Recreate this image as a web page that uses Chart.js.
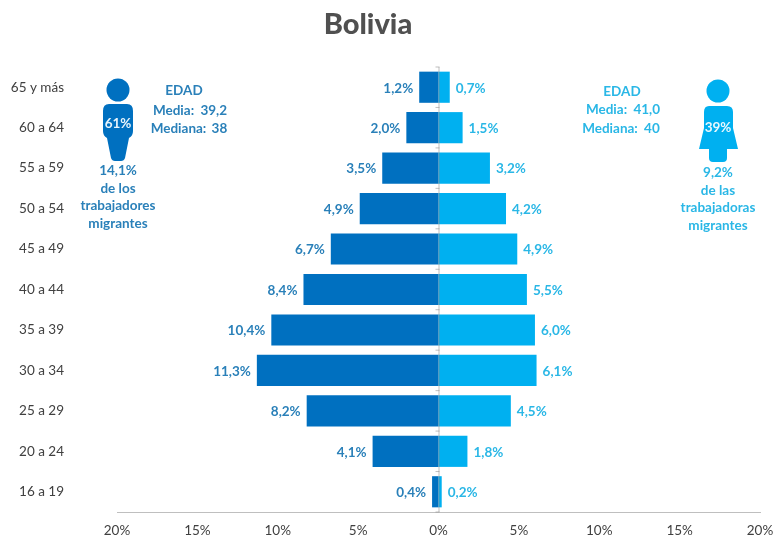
<!DOCTYPE html>
<html><head><meta charset="utf-8">
<style>
html,body{margin:0;padding:0;background:#fff;width:774px;height:541px;overflow:hidden}
#c{position:absolute;left:0;top:0}
.t{position:absolute;font-family:Lato,"Open Sans",sans-serif;font-weight:700;text-align:center;white-space:nowrap;font-size:13.5px;line-height:17.5px}
.m{color:#2a80b9}.f{color:#2ab7e6}
svg{position:absolute;left:0;top:0}
#title{position:absolute;left:322px;width:92px;top:5px;text-align:center;font:900 29px Lato,sans-serif;color:#505050}
</style></head><body>
<canvas id="c" width="774" height="541"></canvas>
<svg width="774" height="541">
<g fill="#0070c0">
<circle cx="118" cy="90" r="11.5"/>
<path d="M109 104H127Q133 104 133 111V131Q133 136 129 138L125 158Q124 161 121 161H115Q112 161 111 158L107 138Q103 136 103 131V111Q103 104 109 104Z"/>
</g>
<g fill="#00b0f0">
<circle cx="718" cy="91" r="11.5"/>
<path d="M709 106H727Q733 106 733 112V128L738 149H727V158Q727 162 723 162H713Q709 162 709 158V149H699L704 128V112Q704 106 709 106Z"/>
</g>
</svg>
<div id="title">Bolivia</div>
<div class="t" style="left:103px;width:30px;top:115px;color:#e8f4fb;font-size:13.5px">61%</div>
<div class="t" style="left:703px;width:30px;top:119px;color:#e8f8fe;font-size:13.5px">39%</div>
<div class="t m" style="left:154px;width:60px;top:82px">EDAD</div>
<div class="t m" style="left:147px;width:86px;top:102px;word-spacing:3px">Media: 39,2</div>
<div class="t m" style="left:146px;width:86px;top:120px;word-spacing:2px">Mediana: 38</div>
<div class="t m" style="left:70px;width:96px;top:162px">14,1%<br>de los<br>trabajadores<br>migrantes</div>
<div class="t f" style="left:592px;width:60px;top:83px">EDAD</div>
<div class="t f" style="left:580px;width:86px;top:101px;word-spacing:3px">Media: 41,0</div>
<div class="t f" style="left:578px;width:86px;top:120px;word-spacing:3px">Mediana: 40</div>
<div class="t f" style="left:670px;width:96px;top:164px">9,2%<br>de las<br>trabajadoras<br>migrantes</div>
<script src="https://cdn.jsdelivr.net/npm/chart.js@4"></script>
<script>
const categories=["65 y más","60 a 64","55 a 59","50 a 54","45 a 49","40 a 44","35 a 39","30 a 34","25 a 29","20 a 24","16 a 19"];
const hombres=[1.2,2.0,3.5,4.9,6.7,8.4,10.4,11.3,8.2,4.1,0.4];
const mujeres=[0.7,1.5,3.2,4.2,4.9,5.5,6.0,6.1,4.5,1.8,0.2];
const xTicks=[-20,-15,-10,-5,0,5,10,15,20];
const fmt=v=>v.toFixed(1).replace('.',',')+'%';
const barLabels={id:'barLabels',afterDatasetsDraw(ch){
  const g=ch.ctx;g.save();g.font='700 13.5px Lato,sans-serif';g.textBaseline='middle';
  ch.data.datasets.forEach((d,i)=>{
    const meta=ch.getDatasetMeta(i);
    g.fillStyle=i===0?'#2a80b9':'#2ab7e6';g.textAlign=i===0?'right':'left';
    meta.data.forEach((b,k)=>{g.fillText(fmt(Math.abs(d.data[k])),b.x+(i===0?-6:6),b.y+1);});
  });
  const x=ch.scales.x.getPixelForValue(0);
  g.strokeStyle='rgba(140,140,140,.55)';g.lineWidth=1;g.beginPath();
  const ys=ch.scales.y;
  g.moveTo(x+.5,ys.top);g.lineTo(x+.5,ys.bottom);
  for(let k=0;k<=categories.length;k++){const y=ys.top+(ys.bottom-ys.top)*k/categories.length;g.moveTo(x-3,y);g.lineTo(x+1,y);}
  g.stroke();g.restore();
}};
new Chart(document.getElementById('c'),{
  type:'bar',
  data:{labels:categories,datasets:[
    {label:'Hombres',data:hombres.map(v=>-v),backgroundColor:'#0070c0',stack:'s',categoryPercentage:1,barPercentage:.77},
    {label:'Mujeres',data:mujeres,backgroundColor:'#00b0f0',stack:'s',categoryPercentage:1,barPercentage:.77}
  ]},
  options:{indexAxis:'y',responsive:false,animation:false,
    layout:{padding:{top:67,right:14,left:0,bottom:0}},
    plugins:{legend:{display:false},tooltip:{enabled:false}},
    scales:{
      x:{type:'linear',min:-20,max:20,stacked:true,
        afterBuildTicks(a){a.ticks=xTicks.map(v=>({value:v}));},
        afterFit(a){a.height=29;a.paddingLeft=0;a.paddingRight=0;},
        grid:{display:false,drawTicks:false},
        border:{display:true,color:'#bfbfbf'},
        ticks:{padding:11,color:'#404040',font:{family:'Lato',size:13.5},maxRotation:0,autoSkip:false,callback:v=>Math.abs(v)+'%'}},
      y:{stacked:true,afterFit(a){a.width=117;a.paddingTop=0;a.paddingBottom=0;},grid:{display:false,drawTicks:false},border:{display:false},
        ticks:{padding:53,color:'#404040',font:{family:'Lato',size:13.5},autoSkip:false}}
    }
  },
  plugins:[barLabels]
});
</script>
</body></html>
